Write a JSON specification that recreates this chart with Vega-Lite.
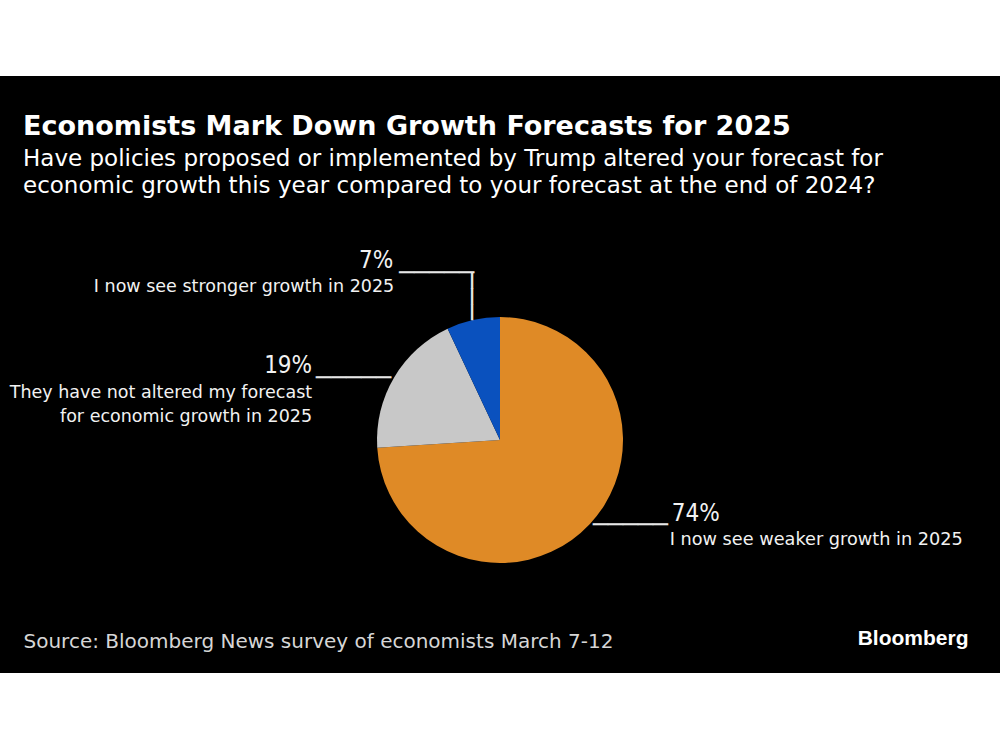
{
  "$schema": "https://vega.github.io/schema/vega-lite/v6.json",
  "width": 1000,
  "height": 597,
  "autosize": {"type": "none"},
  "padding": {"top": 76, "bottom": 77, "left": 0, "right": 0},
  "background": "white",
  "config": {"view": {"fill": "black", "stroke": null}, "font": "DejaVu Sans"},
  "title": {
    "text": "Economists Mark Down Growth Forecasts for 2025",
    "subtitle": ["Have policies proposed or implemented by Trump altered your forecast for", "economic growth this year compared to your forecast at the end of 2024?"],
    "anchor": "start",
    "frame": "group",
    "orient": "top",
    "offset": -123,
    "dx": 23,
    "font": "DejaVu Sans",
    "fontSize": 27,
    "fontWeight": "bold",
    "color": "white",
    "subtitleFont": "DejaVu Sans",
    "subtitleFontSize": 23,
    "subtitleColor": "white",
    "subtitleLineHeight": 27,
    "subtitlePadding": 7
  },
  "data": {
    "values": [
      {"answer": "I now see weaker growth in 2025", "share": 0.74},
      {"answer": "They have not altered my forecast\nfor economic growth in 2025", "share": 0.19},
      {"answer": "I now see stronger growth in 2025", "share": 0.07}
    ]
  },
  "encoding": {
    "x": {
      "datum": 0,
      "type": "quantitative",
      "scale": {"domain": [-1, 1]},
      "axis": {
        "orient": "bottom", "domain": false, "ticks": false, "labels": false, "grid": false,
        "title": "Source: Bloomberg News survey of economists March 7-12",
        "titleFont": "DejaVu Sans", "titleFontSize": 20, "titleFontWeight": "normal", "titleColor": "#d6d6d6",
        "titleX": 23, "titleY": -26, "titleAlign": "left", "titleAnchor": "start", "titleBaseline": "alphabetic"
      }
    },
    "y": {
      "datum": 0,
      "type": "quantitative",
      "scale": {"domain": [-0.64, 1]},
      "axis": {
        "orient": "right", "domain": false, "ticks": false, "labels": false, "grid": false,
        "title": "Bloomberg", "titleAngle": 0, "titleX": -32, "titleY": 568,
        "titleAlign": "right", "titleBaseline": "alphabetic",
        "titleFont": "Liberation Sans", "titleFontSize": 21, "titleFontWeight": "bold", "titleColor": "white"
      }
    },
    "theta": {"field": "share", "type": "quantitative", "stack": true},
    "order": {"field": "share", "sort": "descending"}
  },
  "layer": [
    {
      "mark": {"type": "arc", "outerRadius": 123},
      "encoding": {
        "color": {
          "field": "answer",
          "type": "nominal",
          "scale": {
            "domain": ["I now see weaker growth in 2025", "They have not altered my forecast\nfor economic growth in 2025", "I now see stronger growth in 2025"],
            "range": ["#df8a26", "#c8c8c8", "#0a51be"]
          },
          "legend": null
        }
      }
    },
    {
      "mark": {"type": "text", "align": "left", "baseline": "alphabetic", "dx": 82, "dy": -3, "fontSize": 24, "font": "DejaVu Sans Condensed", "color": "#f2f2f2"},
      "encoding": {
        "detail": {"field": "answer"},
        "radius": {"value": 123},
        "text": {"condition": {"test": "datum.share == 0.74", "field": "share", "type": "quantitative", "format": ".0%"}, "value": ""}
      }
    },
    {
      "mark": {"type": "text", "align": "left", "baseline": "alphabetic", "dx": 80, "dy": 21, "fontSize": 17.7, "font": "DejaVu Sans", "color": "#f2f2f2"},
      "encoding": {
        "detail": {"field": "answer"},
        "radius": {"value": 123},
        "text": {"condition": {"test": "datum.share == 0.74", "field": "answer", "type": "nominal"}, "value": ""}
      }
    },
    {
      "mark": {"type": "text", "align": "left", "baseline": "middle", "dx": 3, "dy": 1, "fontSize": 25, "font": "DejaVu Sans", "color": "#e6e6e6"},
      "encoding": {
        "detail": {"field": "answer"},
        "radius": {"value": 123},
        "text": {"condition": {"test": "datum.share == 0.74", "value": "─────"}, "value": ""}
      }
    },
    {
      "mark": {"type": "text", "align": "right", "baseline": "alphabetic", "dx": -82, "dy": -4, "fontSize": 24, "font": "DejaVu Sans Condensed", "color": "#f2f2f2"},
      "encoding": {
        "detail": {"field": "answer"},
        "radius": {"value": 123},
        "text": {"condition": {"test": "datum.share == 0.19", "field": "share", "type": "quantitative", "format": ".0%"}, "value": ""}
      }
    },
    {
      "mark": {"type": "text", "align": "right", "baseline": "alphabetic", "dx": -82, "dy": 21, "fontSize": 17.5, "font": "DejaVu Sans", "color": "#f2f2f2", "lineBreak": "\n", "lineHeight": 24},
      "encoding": {
        "detail": {"field": "answer"},
        "radius": {"value": 123},
        "text": {"condition": {"test": "datum.share == 0.19", "field": "answer", "type": "nominal"}, "value": ""}
      }
    },
    {
      "mark": {"type": "text", "align": "right", "baseline": "middle", "dx": -3, "dy": 1, "fontSize": 25, "font": "DejaVu Sans", "color": "#e6e6e6"},
      "encoding": {
        "detail": {"field": "answer"},
        "radius": {"value": 123},
        "text": {"condition": {"test": "datum.share == 0.19", "value": "─────"}, "value": ""}
      }
    },
    {
      "mark": {"type": "text", "align": "right", "baseline": "alphabetic", "dx": -80, "dy": -52, "fontSize": 24, "font": "DejaVu Sans Condensed", "color": "#f2f2f2"},
      "encoding": {
        "detail": {"field": "answer"},
        "radius": {"value": 123},
        "text": {"condition": {"test": "datum.share == 0.07", "field": "share", "type": "quantitative", "format": ".0%"}, "value": ""}
      }
    },
    {
      "mark": {"type": "text", "align": "right", "baseline": "alphabetic", "dx": -79, "dy": -28, "fontSize": 17.5, "font": "DejaVu Sans", "color": "#f2f2f2"},
      "encoding": {
        "detail": {"field": "answer"},
        "radius": {"value": 123},
        "text": {"condition": {"test": "datum.share == 0.07", "field": "answer", "type": "nominal"}, "value": ""}
      }
    },
    {
      "mark": {"type": "text", "align": "right", "baseline": "middle", "dx": 1, "dy": -47, "fontSize": 25, "font": "DejaVu Sans", "color": "#e6e6e6"},
      "encoding": {
        "detail": {"field": "answer"},
        "radius": {"value": 123},
        "text": {"condition": {"test": "datum.share == 0.07", "value": "─────"}, "value": ""}
      }
    },
    {
      "mark": {"type": "text", "align": "left", "baseline": "middle", "angle": 270, "dx": 0, "dy": 0, "fontSize": 26, "font": "DejaVu Sans", "color": "#e6e6e6"},
      "encoding": {
        "detail": {"field": "answer"},
        "radius": {"value": 123},
        "text": {"condition": {"test": "datum.share == 0.07", "value": "───"}, "value": ""}
      }
    }
  ]
}
